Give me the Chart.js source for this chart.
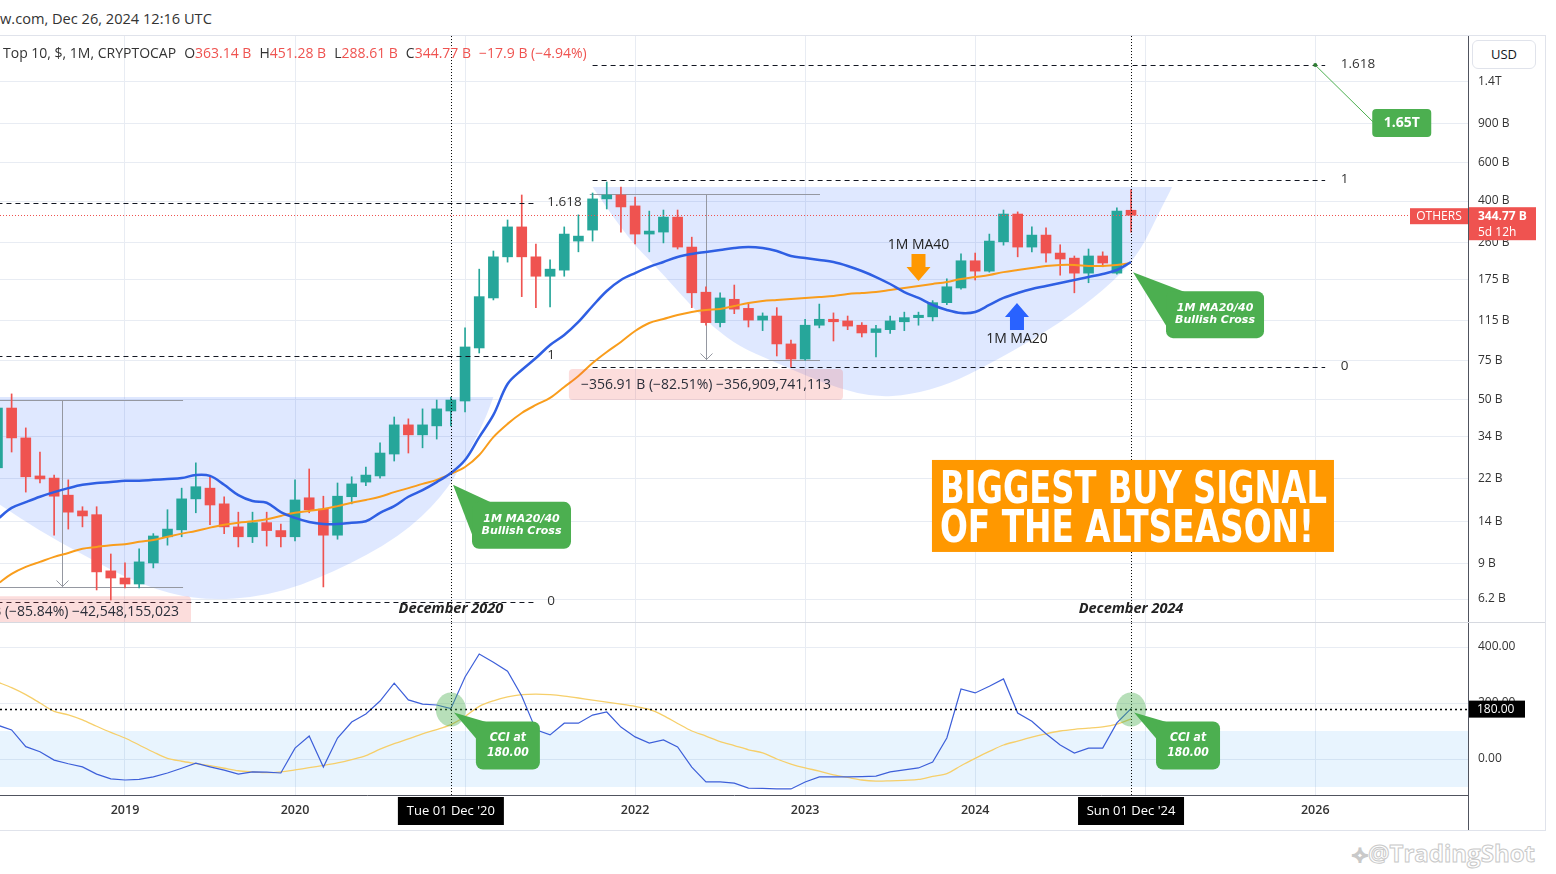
<!DOCTYPE html>
<html>
<head>
<meta charset="utf-8">
<script src="https://cdn.jsdelivr.net/npm/chart.js@4.4.1/dist/chart.umd.min.js"></script>
<style>
  body { margin: 0; background: #fff; width: 1556px; height: 874px; overflow: hidden; position: relative; font-family: "Open Sans", Roboto, sans-serif; color: #131722; }
  #hdr { position: absolute; left: 0; top: 8px; font-size: 14.6px; color: #333; }
  #legend { position: absolute; left: 3px; top: 43px; font-size: 14px; color: #333; white-space: nowrap; }
  #legend .g { margin-left: 8px; }
  #legend .r { color: #ef5350; }
  .line { position: absolute; background: #e0e3eb; }
  #usd { position: absolute; left: 1472px; top: 40px; width: 64px; height: 29px; border: 1px solid #e0e3eb; border-radius: 6px; box-sizing: border-box; font-size: 13px; color: #131722; text-align: center; line-height: 27px; background: #fff; }
  canvas { position: absolute; left: 0; }
  #wm { position: absolute; left: 1352px; top: 836px; font-size: 24px; font-weight: bold; color: #fff; -webkit-text-stroke: 1px #c9c9c9; }
</style>
</head>
<body>
<div id="hdr">w.com, Dec 26, 2024 12:16 UTC</div>
<div class="line" style="left:0;top:35px;width:1545px;height:1px"></div>
<div class="line" style="left:1545px;top:35px;width:1px;height:795px"></div>
<div class="line" style="left:0;top:830px;width:1546px;height:1px"></div>
<div class="line" style="left:0;top:622px;width:1545px;height:1px;background:#d6d9e0"></div>
<div class="line" style="left:1468px;top:795px;width:1px;height:35px;background:#50535e"></div>
<canvas id="main" width="1556" height="586" style="top:36px"></canvas>
<canvas id="cci" width="1556" height="207" style="top:623px"></canvas>
<div id="legend"><span>Top 10, $, 1M, CRYPTOCAP</span><span class="g">O</span><span class="r">363.14 B</span><span class="g">H</span><span class="r">451.28 B</span><span class="g">L</span><span class="r">288.61 B</span><span class="g">C</span><span class="r">344.77 B</span><span class="g r">−17.9 B (−4.94%)</span></div>
<div id="usd">USD</div>
<div id="wm">⟡@TradingShot</div>
<script>
// monthly candles, Apr 2018 .. Dec 2024 (values in billions USD)
const months = [
  '2018-04','2018-05','2018-06','2018-07','2018-08','2018-09','2018-10','2018-11','2018-12',
  '2019-01','2019-02','2019-03','2019-04','2019-05','2019-06','2019-07','2019-08','2019-09','2019-10','2019-11','2019-12',
  '2020-01','2020-02','2020-03','2020-04','2020-05','2020-06','2020-07','2020-08','2020-09','2020-10','2020-11','2020-12',
  '2021-01','2021-02','2021-03','2021-04','2021-05','2021-06','2021-07','2021-08','2021-09','2021-10','2021-11','2021-12',
  '2022-01','2022-02','2022-03','2022-04','2022-05','2022-06','2022-07','2022-08','2022-09','2022-10','2022-11','2022-12',
  '2023-01','2023-02','2023-03','2023-04','2023-05','2023-06','2023-07','2023-08','2023-09','2023-10','2023-11','2023-12',
  '2024-01','2024-02','2024-03','2024-04','2024-05','2024-06','2024-07','2024-08','2024-09','2024-10','2024-11','2024-12'
];
const opens = [24.5, 45.8, 33.5, 22.5, 22.0, 18.4, 15.6, 15.0, 8.33,
  7.73, 7.26, 9.05, 11.9, 12.8, 17.7, 19.8, 16.8, 13.2, 11.9, 13.8, 12.7,
  11.9, 17.9, 15.9, 12.1, 18.1, 21.1, 22.5, 28.3, 38.4, 34.6, 38.0, 44.4,
  49.3, 85.9, 145, 223, 305, 223, 182, 194, 263, 295, 409, 426,
  380, 283, 289, 338, 247, 154, 112, 143, 130, 115, 120, 89.6,
  76.5, 109, 116, 114, 109, 101, 104, 113, 118, 119, 138, 161,
  214, 192, 261, 349, 247, 280, 232, 220, 188, 225, 188, 363.14];
const highs = [50.9, 53.1, 37.2, 28.9, 22.7, 21.6, 16.3, 16.3, 9.94,
  9.05, 10.5, 12.3, 15.8, 19.8, 25.8, 22.3, 18.1, 15.4, 15.4, 15.4, 13.6,
  21.6, 24.2, 18.2, 20.9, 22.3, 24.7, 31.8, 41.7, 40.9, 45.4, 49.8, 51.4,
  106, 196, 237, 328, 426, 255, 216, 305, 346, 435, 488, 463,
  417, 360, 364, 364, 274, 163, 153, 166, 138, 124, 131, 93.4,
  116, 136, 124, 120, 112, 109, 120, 125, 125, 141, 177, 230,
  232, 283, 364, 357, 305, 302, 253, 225, 242, 235, 372, 451.28];
const lows = [23.5, 28.9, 19.0, 20.9, 12.1, 12.9, 13.2, 6.82, 6.14,
  6.97, 6.97, 8.59, 10.9, 11.9, 15.3, 13.5, 12.3, 10.7, 11.2, 10.8, 10.7,
  11.4, 15.3, 7.04, 11.6, 16.8, 20.3, 22.0, 26.3, 28.6, 30.2, 33.1, 38.0,
  44.0, 81.5, 142, 211, 147, 131, 132, 182, 235, 263, 368, 289,
  255, 235, 258, 242, 131, 109, 107, 123, 107, 103, 79.0, 70.4,
  75.5, 106, 92.4, 104, 96.4, 78.2, 100, 103, 109, 114, 135, 159,
  175, 190, 252, 223, 235, 211, 184, 153, 170, 201, 186, 288.61];
const closes = [45.8, 33.5, 22.3, 21.8, 18.2, 15.4, 14.8, 8.24, 7.73,
  7.26, 9.15, 12.0, 12.9, 17.7, 20.1, 16.6, 13.2, 11.9, 13.8, 12.7, 11.9,
  17.5, 15.8, 12.1, 18.2, 20.7, 22.7, 28.6, 38.4, 34.6, 38.4, 45.4, 49.8,
  86.8, 147, 223, 305, 223, 182, 196, 283, 277, 409, 426, 376,
  283, 292, 338, 247, 153, 112, 145, 129, 115, 120, 89.6, 76.5,
  109, 116, 113, 108, 100.5, 105, 114, 118, 121, 138, 163, 214,
  192, 263, 349, 247, 280, 232, 218, 188, 225, 209, 360, 344.77];
const ma20 = [14.3, 16.1, 17.1, 18.1, 19.0, 19.8, 20.5, 20.9, 21.1,
  21.4, 21.4, 21.6, 21.8, 22.0, 22.7, 22.5, 20.5, 18.4, 17.3, 17.0, 15.4,
  14.5, 13.9, 13.6, 13.6, 13.8, 14.0, 15.3, 16.4, 18.1, 19.4, 21.1, 23.2,
  26.6, 33.8, 42.6, 58.9, 68.2, 77.3, 88.6, 98.4, 112.8, 133.3, 156, 175,
  188.2, 200.6, 211.3, 222.6, 229.7, 234.6, 239.5, 244.6, 247.2, 244.6, 237, 225,
  220.3, 215.8, 211.3, 202.7, 192.2, 180.5, 167.8, 154.3, 145, 134.7, 127.9, 123.9,
  125.2, 134.7, 145, 152.7, 159.3, 164.3, 169.6, 175, 180.5, 186.3, 194.3, 211.3];
const ma40 = [7.26, 8.07, 8.68, 9.15, 9.64, 10.05, 10.5, 10.7, 10.9,
  11.0, 11.3, 11.5, 11.9, 12.3, 12.65, 13.1, 13.5, 13.8, 14.0, 14.3, 14.8,
  15.3, 15.6, 15.9, 16.4, 17.0, 17.5, 18.1, 19.0, 19.8, 20.7, 21.6, 23.0,
  24.7, 28.0, 33.8, 38.8, 43.5, 47.3, 50.9, 57.1, 64.1, 73.4, 82.4, 91.5,
  102.6, 111.6, 116.3, 121.3, 125.2, 127.9, 129.2, 133.3, 137.6, 140.5, 142, 143.4,
  145, 146.5, 148, 151.1, 152.7, 154.3, 157.6, 161, 164.3, 167.8, 171.4, 176.8,
  180.5, 184.4, 190, 194.3, 198.3, 202.7, 204.8, 204.8, 202.7, 202.7, 204.8, 209];
const cci = [121, 104, 44, 26, -4, -17, -28, -54, -71,
  -75, -73, -64, -50, -33, -15, -28, -40, -54, -46, -47, -50,
  39, 82, -29, 75, 132, 161, 207, 271, 211, 196, 193, 180,
  293, 375, 346, 314, 225, 104, 86, 128, 128, 157, 168, 114,
  79, 57, 68, 43, -29, -82, -82, -86, -104, -105, -107, -107,
  -82, -64, -64, -64, -63, -61, -46, -39, -32, -11, 75, 250,
  236, 260, 286, 164, 135, 90, 50, 21, 39, 39, 129, 180];
const cciSignal = [275, 255, 230, 200, 170, 158, 140, 117, 95,
  75, 50, 25, 2, -8, -16, -24, -33, -42, -46, -49, -46,
  -39, -31, -23, -14, -2, 12, 35, 55, 72, 90, 105, 123,
  152, 188, 208, 222, 230, 232, 230, 225, 218, 210, 203, 196,
  188, 177, 155, 127, 100, 82, 62, 48, 33, 22, 0, -18,
  -32, -43, -57, -66, -75, -79, -78, -76, -73, -62, -52, -24,
  2, 27, 50, 64, 78, 90, 100, 106, 110, 115, 125, 143];

const priceTicks = [6.2, 9, 14, 22, 34, 50, 75, 115, 175, 260, 400, 600, 900, 1400];
const priceTickLabels = ['6.2 B', '9 B', '14 B', '22 B', '34 B', '50 B', '75 B', '115 B', '175 B', '260 B', '400 B', '600 B', '900 B', '1.4T'];
const cciTicks = [0, 200, 400];
const cciTickLabels = ['0.00', '200.00', '400.00'];
const yearTicks = [0, 12, 24, 36, 48, 60, 72, 84];
const yearLabels = ['2019', '2020', '2021', '2022', '2023', '2024', '2025', '2026'];

// month index, 0 = Jan 2019
const monthX = months.map(m => {
  const [yy, mm] = m.split('-').map(Number);
  return (yy - 2019) * 12 + mm - 1;
});

const GREEN = '#26a69a', RED = '#ef5350', GRID = '#e8ecf3';
const FONT = '"Open Sans"';
const xMin = -8.82, xMax = 94.78;
Chart.defaults.font.family = FONT;

// drawings on the price pane, placed in (month, value) space
const fibSets = [
  {from: -9, to: 28.9, labelAt: 29.8, levels: [[391.6, '1.618'], [79.0, '1'], [6.02, '0']]},
  {from: 33.0, to: 84.7, labelAt: 85.8, levels: [[1660, '1.618'], [499, '1'], [70.4, '0']]}
];
const ranges = [
  {from: -10, to: 4.1, at: -4.45, hi: 49.57, lo: 7.02, text: '−42.55 B (−85.84%) −42,548,155,023'},
  {from: 32.8, to: 49.05, at: 41.0, hi: 432.6, lo: 75.7, text: '−356.91 B (−82.51%) −356,909,741,113'}
];
const bowls = [
  [[-19.4, 51.4], [-14.1, 28.0], [-8.8, 16.6], [-6.0, 12.65], [-3.2, 10.05], [1.06, 7.19], [5.3, 6.08],
   [10.2, 6.41], [14.7, 8.15], [19.4, 11.9], [22.4, 18.1], [24.1, 27.4], [25.4, 40.4], [26.0, 51.4]],
  [[33.0, 463], [35.4, 274], [37.5, 200.6], [39.9, 134.7], [41.5, 107], [43.4, 86.8], [45.7, 74.9],
   [48.1, 64.1], [50.5, 55.9], [52.9, 51.4], [55.4, 52.5], [58.2, 58.9], [61.0, 72.6], [64.4, 96.4],
   [67.6, 132], [70.4, 188.2], [71.8, 247], [73.0, 356.5], [73.9, 463]]
];
const crossNotes = [
  {x: 23.15, v: 20.5, dx: 19, dy: 17, w: 99, h: 47},
  {x: 71.14, v: 190, dx: 33, dy: 19, w: 98, h: 47}
];
const maArrows = [
  {x: 56.0, v: 173, up: false, color: '#ff9800', text: '1M MA40'},
  {x: 62.95, v: 137.6, up: true, color: '#2962ff', text: '1M MA20'}
];
const markMonths = [23, 71];
const markDates = ['December 2020', 'December 2024'];
const axisDates = ["Tue 01 Dec '20", "Sun 01 Dec '24"];

function smoothPath(ctx, pts) {
  ctx.moveTo(pts[0][0], pts[0][1]);
  for (let i = 1; i < pts.length - 1; i++) {
    const mx = (pts[i][0] + pts[i + 1][0]) / 2, my = (pts[i][1] + pts[i + 1][1]) / 2;
    ctx.quadraticCurveTo(pts[i][0], pts[i][1], mx, my);
  }
  const last = pts[pts.length - 1];
  ctx.lineTo(last[0], last[1]);
}

function bubble(ctx, tipX, tipY, bx, by, w, h, tailA, tailB, lines, font, lineGap) {
  ctx.fillStyle = '#4caf50';
  ctx.beginPath();
  ctx.moveTo(tipX, tipY);
  ctx.lineTo(tailA[0], tailA[1]);
  ctx.lineTo(tailB[0], tailB[1]);
  ctx.closePath();
  ctx.fill();
  ctx.beginPath();
  ctx.roundRect(bx, by, w, h, 7);
  ctx.fill();
  ctx.fillStyle = '#fff';
  ctx.font = font;
  ctx.textAlign = 'center';
  ctx.textBaseline = 'middle';
  const cy = by + h / 2 - (lines.length - 1) * lineGap / 2;
  lines.forEach((t, i) => ctx.fillText(t, bx + w / 2, cy + i * lineGap));
}

function fitText(ctx, text, cx, base, width) {
  const w = ctx.measureText(text).width;
  ctx.save();
  ctx.translate(cx, base);
  ctx.scale(width / w, 1);
  ctx.fillText(text, 0, 0);
  ctx.restore();
}

const mainDecor = {
  id: 'mainDecor',
  beforeDatasetsDraw(chart) {
    const {ctx, chartArea: a, scales: {x, y}} = chart;
    ctx.save();
    ctx.beginPath();
    ctx.rect(a.left, a.top, a.right - a.left, a.bottom - a.top);
    ctx.clip();
    ctx.fillStyle = 'rgba(41, 98, 255, 0.15)';
    bowls.forEach(b => {
      const pts = b.map(p => [x.getPixelForValue(p[0]), y.getPixelForValue(p[1])]);
      ctx.beginPath();
      smoothPath(ctx, pts);
      ctx.closePath();
      ctx.fill();
    });
    // price range measurements
    ctx.strokeStyle = '#9598a1';
    ctx.lineWidth = 1;
    ranges.forEach(r => {
      const x0 = x.getPixelForValue(r.from), x1 = x.getPixelForValue(r.to), xm = Math.round(x.getPixelForValue(r.at)) + 0.5;
      const yt = Math.round(y.getPixelForValue(r.hi)) + 0.5, yb = Math.round(y.getPixelForValue(r.lo)) + 0.5;
      ctx.beginPath();
      ctx.moveTo(x0, yt); ctx.lineTo(x1, yt);
      ctx.moveTo(x0, yb); ctx.lineTo(x1, yb);
      ctx.moveTo(xm, yt); ctx.lineTo(xm, yb);
      ctx.moveTo(xm - 6, yb - 7); ctx.lineTo(xm, yb - 1); ctx.lineTo(xm + 6, yb - 7);
      ctx.stroke();
    });
    ctx.restore();
  },
  afterDatasetsDraw(chart) {
    const {ctx, chartArea: a, scales: {x, y}} = chart;
    ctx.save();
    ctx.beginPath();
    ctx.rect(a.left, a.top, a.right - a.left, a.bottom - a.top);
    ctx.clip();
    // fib levels
    ctx.strokeStyle = '#131722';
    ctx.lineWidth = 1;
    ctx.font = '13.5px ' + FONT;
    ctx.textBaseline = 'middle';
    ctx.textAlign = 'left';
    fibSets.forEach(f => {
      f.levels.forEach(([v, label]) => {
        const yy = Math.round(y.getPixelForValue(v)) + 0.5;
        ctx.setLineDash([5, 4]);
        ctx.beginPath();
        ctx.moveTo(x.getPixelForValue(f.from), yy);
        ctx.lineTo(x.getPixelForValue(f.to), yy);
        ctx.stroke();
        ctx.setLineDash([]);
        ctx.fillStyle = '#333';
        ctx.fillText(label, x.getPixelForValue(f.labelAt), yy - 1);
      });
    });
    // range labels
    ranges.forEach(r => {
      const xm = x.getPixelForValue(r.at), yb = y.getPixelForValue(r.lo);
      ctx.font = '14px ' + FONT;
      const w = ctx.measureText(r.text).width + 24;
      ctx.fillStyle = 'rgba(239, 83, 80, 0.2)';
      ctx.beginPath();
      ctx.roundRect(xm - w / 2, yb + 9, w, 31, 4);
      ctx.fill();
      ctx.fillStyle = '#2a2e39';
      ctx.textAlign = 'center';
      ctx.fillText(r.text, xm, yb + 25);
    });
    // close price line
    const yc = Math.round(y.getPixelForValue(closes[closes.length - 1])) + 0.5;
    ctx.strokeStyle = RED;
    ctx.setLineDash([1, 2]);
    ctx.beginPath();
    ctx.moveTo(a.left, yc); ctx.lineTo(a.right, yc);
    ctx.stroke();
    // dotted time markers
    ctx.strokeStyle = '#000';
    ctx.setLineDash([1, 2]);
    markMonths.forEach(m => {
      const xx = Math.round(x.getPixelForValue(m)) + 0.5;
      ctx.beginPath();
      ctx.moveTo(xx, a.top); ctx.lineTo(xx, a.bottom);
      ctx.stroke();
    });
    ctx.setLineDash([]);
    // MA arrows
    maArrows.forEach(ar => {
      const ax = x.getPixelForValue(ar.x), ay = y.getPixelForValue(ar.v), s = ar.up ? 1 : -1;
      ctx.fillStyle = ar.color;
      ctx.beginPath();
      ctx.moveTo(ax, ay);
      ctx.lineTo(ax + 12, ay + s * 14);
      ctx.lineTo(ax + 7, ay + s * 14);
      ctx.lineTo(ax + 7, ay + s * 27);
      ctx.lineTo(ax - 7, ay + s * 27);
      ctx.lineTo(ax - 7, ay + s * 14);
      ctx.lineTo(ax - 12, ay + s * 14);
      ctx.closePath();
      ctx.fill();
      ctx.fillStyle = '#222';
      ctx.font = '14px ' + FONT;
      ctx.textAlign = 'center';
      ctx.fillText(ar.text, ax, ay + s * 36);
    });
    // cross notes
    crossNotes.forEach(n => {
      const tx = x.getPixelForValue(n.x), ty = y.getPixelForValue(n.v);
      const bx = tx + n.dx, by = ty + n.dy;
      bubble(ctx, tx, ty, bx, by, n.w, n.h, [bx + 22, by + 2], [bx + 2, by + n.h * 0.8],
        ['1M MA20/40', 'Bullish Cross'], 'italic bold 11px "DejaVu Sans"', 12);
    });
    // 1.65T target
    const fx = x.getPixelForValue(84), fy = y.getPixelForValue(1660);
    ctx.strokeStyle = '#4caf50';
    ctx.beginPath();
    ctx.moveTo(fx, fy); ctx.lineTo(fx + 58, fy + 57);
    ctx.stroke();
    ctx.fillStyle = '#2e7d32';
    ctx.beginPath(); ctx.arc(fx, fy, 2, 0, Math.PI * 2); ctx.fill();
    ctx.fillStyle = '#4caf50';
    ctx.beginPath(); ctx.roundRect(fx + 57, fy + 44, 59, 28, 4); ctx.fill();
    ctx.fillStyle = '#fff';
    ctx.font = 'bold 14px ' + FONT;
    ctx.textAlign = 'center';
    ctx.fillText('1.65T', fx + 86.5, fy + 58);
    // date captions
    ctx.fillStyle = '#222';
    ctx.font = 'italic bold 14.5px ' + FONT;
    markMonths.forEach((m, i) => ctx.fillText(markDates[i], x.getPixelForValue(m), a.bottom - 13));
    // signal box
    const sx = x.getPixelForValue(56.95), sy = y.getPixelForValue(26.6);
    ctx.fillStyle = '#ff9800';
    ctx.fillRect(sx, sy, 402, 92);
    ctx.fillStyle = '#fff';
    ctx.font = 'bold 44px "DejaVu Sans"';
    ctx.textAlign = 'center';
    ctx.textBaseline = 'alphabetic';
    fitText(ctx, 'BIGGEST BUY SIGNAL', sx + 201.5, sy + 43, 387);
    fitText(ctx, 'OF THE ALTSEASON!', sx + 195, sy + 82, 374);
    ctx.restore();
  },
  afterDraw(chart) {
    const {ctx, chartArea: a, scales: {y}} = chart;
    const yc = y.getPixelForValue(closes[closes.length - 1]);
    ctx.save();
    ctx.fillStyle = RED;
    ctx.fillRect(a.right - 58, yc - 7, 58, 16);
    ctx.fillRect(a.right + 1, yc - 8, 67, 33);
    ctx.fillStyle = '#fff';
    ctx.textBaseline = 'middle';
    ctx.textAlign = 'center';
    ctx.font = '12px ' + FONT;
    ctx.fillText('OTHERS', a.right - 29, yc + 1);
    ctx.textAlign = 'left';
    ctx.font = 'bold 12px ' + FONT;
    ctx.fillText('344.77 B', a.right + 10, yc + 1);
    ctx.font = '12px ' + FONT;
    ctx.fillText('5d 12h', a.right + 10, yc + 17);
    ctx.restore();
  }
};

const cciDecor = {
  id: 'cciDecor',
  beforeDatasetsDraw(chart) {
    const {ctx, chartArea: a, scales: {y}} = chart;
    ctx.save();
    ctx.fillStyle = 'rgba(33, 150, 243, 0.1)';
    const y1 = y.getPixelForValue(100), y0 = y.getPixelForValue(-100);
    ctx.fillRect(a.left, y1, a.right - a.left, y0 - y1);
    ctx.restore();
  },
  afterDatasetsDraw(chart) {
    const {ctx, chartArea: a, scales: {x, y}} = chart;
    ctx.save();
    const y180 = Math.round(y.getPixelForValue(180)) + 0.5;
    ctx.strokeStyle = '#000';
    ctx.lineWidth = 1.5;
    ctx.setLineDash([2, 3]);
    ctx.beginPath();
    ctx.moveTo(a.left, y180); ctx.lineTo(a.right, y180);
    ctx.stroke();
    ctx.lineWidth = 1;
    ctx.setLineDash([1, 2]);
    markMonths.forEach(m => {
      const xx = Math.round(x.getPixelForValue(m)) + 0.5;
      ctx.beginPath();
      ctx.moveTo(xx, a.top); ctx.lineTo(xx, a.bottom);
      ctx.stroke();
    });
    ctx.setLineDash([]);
    markMonths.forEach(m => {
      const cx = x.getPixelForValue(m);
      ctx.fillStyle = 'rgba(76, 175, 80, 0.4)';
      ctx.beginPath();
      ctx.ellipse(cx, y180, 15, 17, 0, 0, Math.PI * 2);
      ctx.fill();
      const bx = cx + 25, by = y180 + 12;
      bubble(ctx, cx + 3, y180 + 3, bx, by, 64, 48, [bx + 12, by + 1], [bx + 1, by + 18],
        ['CCI at', '180.00'], 'italic bold 12px "DejaVu Sans Condensed", "DejaVu Sans"', 15);
    });
    ctx.restore();
  },
  afterDraw(chart) {
    const {ctx, chartArea: a, scales: {x, y}} = chart;
    ctx.save();
    const y180 = y.getPixelForValue(180);
    ctx.fillStyle = '#000';
    ctx.fillRect(a.right + 1, y180 - 8, 56, 17);
    ctx.fillStyle = '#fff';
    ctx.font = '12px ' + FONT;
    ctx.textAlign = 'left';
    ctx.textBaseline = 'middle';
    ctx.fillText('180.00', a.right + 9, y180 + 1);
    ctx.textAlign = 'center';
    ctx.font = '13px ' + FONT;
    markMonths.forEach((m, i) => {
      const cx = x.getPixelForValue(m);
      ctx.fillStyle = '#000';
      ctx.fillRect(cx - 53, a.bottom + 2, 106, 28);
      ctx.fillStyle = '#fff';
      ctx.fillText(axisDates[i], cx, a.bottom + 16);
    });
    ctx.restore();
  }
};

const xAxis = (showLabels) => ({
  type: 'linear', min: xMin, max: xMax, offset: false,
  grid: {color: GRID, offset: false, drawTicks: false},
  border: {display: showLabels, color: '#50535e'},
  ticks: {display: showLabels, padding: 8, color: '#333', autoSkip: false, maxRotation: 0,
    font: {size: 12.5, weight: '600'}, callback: (v, i) => yearLabels[i]},
  afterBuildTicks: s => { s.ticks = yearTicks.map(v => ({value: v})); },
  afterFit: s => { s.height = showLabels ? 35 : 0; }
});

new Chart(document.getElementById('main'), {
  type: 'bar',
  data: {
    datasets: [
      {type: 'line', label: 'MA20', data: monthX.map((x, i) => ({x, y: ma20[i]})), borderColor: '#2f5fe3',
        borderWidth: 2.5, pointRadius: 0, tension: 0.35, order: 0},
      {type: 'line', label: 'MA40', data: monthX.map((x, i) => ({x, y: ma40[i]})), borderColor: '#f99d1c',
        borderWidth: 2, pointRadius: 0, tension: 0.35, order: 0},
      {label: 'body', data: monthX.map((x, i) => ({x, y: [opens[i], closes[i]]})),
        backgroundColor: closes.map((c, i) => c >= opens[i] ? GREEN : RED), barThickness: 10, grouped: false, order: 1},
      {label: 'wick', data: monthX.map((x, i) => ({x, y: [lows[i], highs[i]]})),
        backgroundColor: closes.map((c, i) => c >= opens[i] ? GREEN : RED), barThickness: 1, grouped: false, order: 2}
    ]
  },
  options: {
    responsive: false, animation: false,
    layout: {padding: 0},
    plugins: {legend: {display: false}, tooltip: {enabled: false}},
    scales: {
      x: xAxis(false),
      y: {
        type: 'logarithmic', position: 'right', min: 4.88, max: 2249,
        grid: {color: GRID, drawTicks: true, tickLength: 10, tickColor: 'rgba(0,0,0,0)'},
        border: {display: true, color: '#50535e'},
        ticks: {padding: 0, color: '#333', autoSkip: false, font: {size: 12, lineHeight: 0.01},
          callback: (v, i) => priceTickLabels[i]},
        afterBuildTicks: s => { s.ticks = priceTicks.map(v => ({value: v})); },
        afterFit: s => { s.width = 88; }
      }
    }
  },
  plugins: [mainDecor]
});

new Chart(document.getElementById('cci'), {
  type: 'line',
  data: {
    datasets: [
      {label: 'CCI', data: monthX.map((x, i) => ({x, y: cci[i]})), borderColor: '#3d5fd9',
        borderWidth: 1.2, pointRadius: 0, tension: 0},
      {label: 'CCI MA', data: monthX.map((x, i) => ({x, y: cciSignal[i]})), borderColor: '#f6cf6a',
        borderWidth: 1.3, pointRadius: 0, tension: 0.3}
    ]
  },
  options: {
    responsive: false, animation: false,
    layout: {padding: 0},
    plugins: {legend: {display: false}, tooltip: {enabled: false}},
    scales: {
      x: xAxis(true),
      y: {
        type: 'linear', position: 'right', min: -128.6, max: 485.7,
        grid: {color: GRID, drawTicks: true, tickLength: 10, tickColor: 'rgba(0,0,0,0)'},
        border: {display: true, color: '#50535e'},
        ticks: {padding: 0, color: '#333', autoSkip: false, font: {size: 12, lineHeight: 0.01},
          callback: (v, i) => cciTickLabels[i]},
        afterBuildTicks: s => { s.ticks = cciTicks.map(v => ({value: v})); },
        afterFit: s => { s.width = 88; }
      }
    }
  },
  plugins: [cciDecor]
});
</script>
</body>
</html>
